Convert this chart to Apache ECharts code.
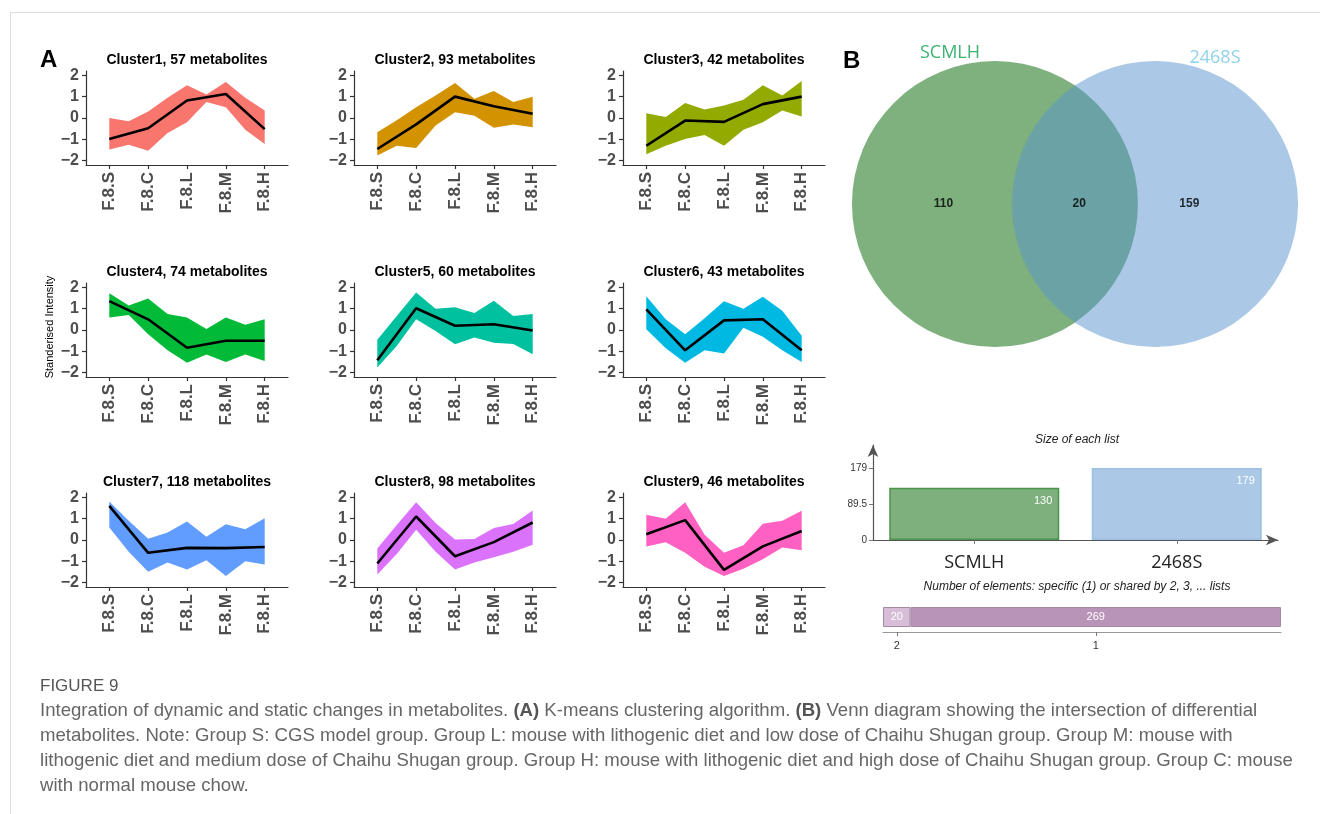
<!DOCTYPE html>
<html>
<head>
<meta charset="utf-8">
<script src="https://cdn.jsdelivr.net/npm/echarts@6/dist/echarts.min.js"></script>
<style>
  html, body { margin: 0; padding: 0; background: #fff; }
  #frame { position: absolute; left: 10px; top: 12px; right: 0; bottom: 0; border-left: 1px solid #dcdcdc; border-top: 1px solid #dcdcdc; }
  #chart { position: absolute; left: 0; top: 0; width: 1320px; height: 814px; }
</style>
</head>
<body>
<div id="frame"></div>
<div id="chart"></div>
<script>
// ── data ─────────────────────────────────────────────────────────────────────
const GROUPS = ['F.8.S', 'F.8.C', 'F.8.L', 'F.8.M', 'F.8.H'];
const Y_TICKS = [-2, -1, 0, 1, 2];
const CLUSTER_SIZES = [57, 93, 42, 74, 60, 43, 118, 98, 46];

// cluster centre profile (black line)
const CLUSTER_MEANS = [
    [-0.98, -0.48, 0.82, 1.12, -0.52],
    [-1.45, -0.30, 1.00, 0.55, 0.20],
    [-1.30, -0.12, -0.18, 0.65, 1.00],
    [1.35, 0.50, -0.83, -0.50, -0.50],
    [-1.42, 1.02, 0.20, 0.27, -0.02],
    [0.97, -0.95, 0.45, 0.50, -0.95],
    [1.60, -0.60, -0.37, -0.38, -0.33],
    [-1.10, 1.10, -0.76, -0.10, 0.82],
    [0.27, 0.93, -1.40, -0.30, 0.42],
];

// envelope of the member lines, read at every half group step
const BAND_X = [0, 0.5, 1, 1.5, 2, 2.5, 3, 3.5, 4];
const BAND_UPPER = [
    [0.0, -0.15, 0.3, 0.95, 1.53, 1.1, 1.69, 0.95, 0.35],
    [-0.67, -0.1, 0.5, 1.05, 1.64, 0.9, 1.26, 0.75, 1.0],
    [0.22, 0.05, 0.7, 0.4, 0.58, 0.85, 1.53, 1.05, 1.73],
    [1.72, 1.15, 1.48, 0.75, 0.59, 0.05, 0.59, 0.25, 0.5],
    [-0.46, 0.65, 1.76, 1.0, 1.06, 0.8, 1.37, 0.65, 0.75],
    [1.58, 0.5, -0.2, 0.55, 1.34, 1.0, 1.56, 0.9, -0.27],
    [1.8, 0.9, 0.06, 0.35, 0.87, 0.15, 0.74, 0.5, 1.02],
    [-0.4, 0.7, 1.77, 0.8, 0.02, 0.05, 0.56, 0.75, 1.38],
    [1.18, 1.0, 1.77, 0.25, -0.6, -0.25, 0.76, 0.9, 1.37],
];
const BAND_LOWER = [
    [-1.48, -1.25, -1.53, -0.7, -0.2, 0.75, 0.5, -0.55, -1.22],
    [-1.76, -1.3, -1.4, -0.35, 0.27, 0.1, -0.46, -0.3, -0.43],
    [-1.7, -1.3, -0.98, -0.8, -1.3, -0.55, -0.2, 0.35, 0.07],
    [0.59, 0.7, -0.2, -0.95, -1.53, -1.15, -1.5, -1.15, -1.45],
    [-1.76, -0.75, 0.5, -0.05, -0.67, -0.35, -0.6, -0.65, -1.14],
    [0.04, -0.85, -1.53, -0.95, -1.1, 0.1, -0.32, -0.95, -1.5],
    [0.59, -0.55, -1.49, -1.05, -1.38, -0.95, -1.69, -1.0, -1.15],
    [-1.61, -0.65, 0.48, -0.55, -1.38, -1.05, -0.81, -0.55, -0.22],
    [-0.3, -0.1, -0.6, -1.25, -1.69, -1.35, -0.9, -0.35, -0.48],
];

const VENN_SETS = ['SCMLH', '2468S'];
const VENN_COUNTS = [110, 20, 159];          // only SCMLH, both, only 2468S
const LIST_SIZES = [130, 179];
const LIST_TICKS = [0, 89.5, 179];
const SHARED_LABELS = ['2', '1'];
const SHARED_COUNTS = [20, 269];

// ── style / layout ───────────────────────────────────────────────────────────
const FONT = '"Liberation Sans", Arial, sans-serif';
const UI_FONT = '"Open Sans", "Noto Sans", sans-serif';
const CLUSTER_COLORS = ['#F8766D', '#D39200', '#93AA00', '#00BA38', '#00C19F', '#00B9E3', '#619CFF', '#DB72FB', '#FF61C3'];
const COL_X = [86, 354, 623];
const ROW_Y = [71, 283, 493];
const PANEL_W = 202;
const PANEL_H = 94;
const AXIS_GREY = '#333';
const TICK_GREY = '#4d4d4d';

const VENN_CENTRES = [0, 1.12];
const VENN_LABEL_X = [-0.36, 0.59, 1.36];
const VENN_FILLS = ['rgba(0,100,0,0.5)', 'rgba(87,147,205,0.5)'];
const VENN_TEXT = ['#3cb371', '#8fd3ea'];
const LIST_FILLS = ['#7db07d', '#abc9e6'];
const LIST_BORDERS = ['#4c944c', '#9cc0e4'];
const SHARED_FILLS = ['#d7bdd7', '#b994b9'];

function label(text, x, y, style, align = 'center') {
    return {
        text, left: x, top: y, padding: 0, textAlign: align, textVerticalAlign: 'middle',
        textStyle: { fontFamily: FONT, color: '#000', fontWeight: 'normal', ...style },
    };
}

const grids = [], xAxes = [], yAxes = [], series = [];
const titles = [
    label('A', 40, 60, { fontSize: 24, fontWeight: 'bold' }, 'left'),
    label('B', 843, 61, { fontSize: 24, fontWeight: 'bold' }, 'left'),
];

// ── A: k-means clusters ──────────────────────────────────────────────────────
CLUSTER_SIZES.forEach((n, i) => {
    const col = i % 3, row = Math.floor(i / 3);
    grids.push({ left: COL_X[col], top: ROW_Y[row], width: PANEL_W, height: PANEL_H });
    const tickStyle = { color: AXIS_GREY, width: 1.2 };
    xAxes.push({
        type: 'value', gridIndex: i, min: -0.6, max: 4.6, splitLine: { show: false },
        axisLine: { show: true, onZero: false, lineStyle: tickStyle },
        axisTick: { show: true, customValues: [0, 1, 2, 3, 4], length: 4, lineStyle: tickStyle },
        axisLabel: {
            customValues: [0, 1, 2, 3, 4], formatter: v => GROUPS[Math.round(v)], rotate: 90, margin: 7,
            fontSize: 17, fontWeight: 'bold', color: TICK_GREY, fontFamily: FONT,
        },
    });
    yAxes.push({
        type: 'value', gridIndex: i, min: -2.2, max: 2.2, splitLine: { show: false },
        axisLine: { show: true, onZero: false, lineStyle: tickStyle },
        axisTick: { show: true, customValues: Y_TICKS, length: 4, lineStyle: tickStyle },
        axisLabel: {
            customValues: Y_TICKS, formatter: v => String(v).replace('-', '\u2212'), margin: 7,
            fontSize: 16, fontWeight: 'bold', color: TICK_GREY, fontFamily: FONT,
        },
    });
    series.push({
        type: 'custom', xAxisIndex: i, yAxisIndex: i, silent: true, data: [[0, 0]],
        renderItem: (params, api) => {
            const top = BAND_X.map((x, k) => api.coord([x, BAND_UPPER[i][k]]));
            const bottom = BAND_X.map((x, k) => api.coord([x, BAND_LOWER[i][k]])).reverse();
            return { type: 'polygon', shape: { points: top.concat(bottom) }, style: { fill: CLUSTER_COLORS[i] } };
        },
    });
    series.push({
        type: 'line', xAxisIndex: i, yAxisIndex: i, silent: true, z: 5, symbol: 'none',
        data: CLUSTER_MEANS[i].map((v, k) => [k, v]),
        lineStyle: { color: '#000', width: 2.6 },
    });
    titles.push(label(`Cluster${i + 1}, ${n} metabolites`, COL_X[col] + PANEL_W / 2, ROW_Y[row] - 11,
        { fontSize: 14, fontWeight: 'bold' }));
});

// ── B: venn ──────────────────────────────────────────────────────────────────
const vi = grids.length;
grids.push({ left: 852, top: 61, width: 446, height: 286 });
xAxes.push({ type: 'value', gridIndex: vi, min: -1, max: 2.12, show: false });
yAxes.push({ type: 'value', gridIndex: vi, min: -1, max: 1, show: false });
series.push({
    type: 'custom', xAxisIndex: vi, yAxisIndex: vi, silent: true,
    data: VENN_SETS.map((s, k) => [VENN_CENTRES[k], 0]),
    renderItem: (params, api) => {
        const c = api.coord([api.value(0), api.value(1)]);
        const r = api.size([1, 1])[1];
        return { type: 'circle', shape: { cx: c[0], cy: c[1], r }, style: { fill: VENN_FILLS[params.dataIndex] } };
    },
});
series.push({
    type: 'scatter', xAxisIndex: vi, yAxisIndex: vi, silent: true, symbolSize: 1, z: 5,
    itemStyle: { color: 'transparent' },
    data: VENN_COUNTS.map((c, k) => [VENN_LABEL_X[k], 0]),
    label: {
        show: true, position: 'inside', formatter: p => String(VENN_COUNTS[p.dataIndex]),
        fontSize: 12, fontWeight: 'bold', color: '#000', fontFamily: FONT,
    },
});
titles.push(label(VENN_SETS[0], 950, 53, { fontSize: 18, color: VENN_TEXT[0], fontFamily: UI_FONT }));
titles.push(label(VENN_SETS[1], 1215, 58, { fontSize: 18, color: VENN_TEXT[1], fontFamily: UI_FONT }));

// ── B: size of each list ─────────────────────────────────────────────────────
const bi = grids.length;
grids.push({ left: 873, top: 445, width: 405, height: 95 });
xAxes.push({
    type: 'category', gridIndex: bi, data: VENN_SETS,
    axisLine: { show: true, symbol: ['none', 'arrow'], symbolSize: [8, 12], lineStyle: { color: '#555', width: 1.2 } },
    axisTick: { show: true, alignWithLabel: true, length: 4, lineStyle: { color: '#777' } },
    axisLabel: { fontSize: 18, color: '#222', margin: 14, fontFamily: UI_FONT },
});
yAxes.push({
    type: 'value', gridIndex: bi, min: 0, max: 236, splitLine: { show: false },
    axisLine: { show: true, symbol: ['none', 'arrow'], symbolSize: [8, 12], lineStyle: { color: '#555', width: 1.2 } },
    axisTick: { show: true, customValues: LIST_TICKS, length: 4, lineStyle: { color: '#777' } },
    axisLabel: { customValues: LIST_TICKS, fontSize: 10, color: '#333', margin: 6, fontFamily: FONT },
});
series.push({
    type: 'bar', xAxisIndex: bi, yAxisIndex: bi, silent: true, barWidth: 170,
    data: LIST_SIZES.map((v, k) => ({ value: v, itemStyle: { color: LIST_FILLS[k], borderColor: LIST_BORDERS[k], borderWidth: 1.5 } })),
    label: { show: true, position: 'insideTopRight', color: '#fff', fontSize: 11, fontFamily: FONT, offset: [-2, 3] },
});
titles.push(label('Size of each list', 1077, 440, { fontSize: 12, fontStyle: 'italic', color: '#222' }));
titles.push(label('Number of elements: specific (1) or shared by 2, 3, ... lists', 1077, 587,
    { fontSize: 12, fontStyle: 'italic', color: '#222' }));

// ── B: shared elements strip ─────────────────────────────────────────────────
const si = grids.length;
const sharedTotal = SHARED_COUNTS.reduce((a, b) => a + b, 0);
const sharedCentres = SHARED_COUNTS.map((v, k) => SHARED_COUNTS.slice(0, k).reduce((a, b) => a + b, 0) + v / 2);
grids.push({ left: 883, top: 607, width: 398, height: 20 });
yAxes.push({ type: 'category', gridIndex: si, data: ['n'], show: false });
xAxes.push({
    type: 'value', gridIndex: si, min: 0, max: sharedTotal, splitLine: { show: false }, offset: 5,
    axisLine: { show: true, lineStyle: { color: '#999', width: 1.2 } },
    axisTick: { show: true, customValues: sharedCentres, length: 4, lineStyle: { color: '#777' } },
    axisLabel: {
        customValues: sharedCentres, fontSize: 11, color: '#333', margin: 8, fontFamily: FONT,
        formatter: v => SHARED_LABELS[sharedCentres.findIndex(c => Math.abs(c - v) < 1e-6)],
    },
});
SHARED_COUNTS.forEach((v, k) => {
    series.push({
        type: 'bar', xAxisIndex: si, yAxisIndex: si, silent: true, stack: 'shared', barWidth: 20,
        data: [v],
        itemStyle: { color: SHARED_FILLS[k], borderColor: '#a58aa5', borderWidth: 1 },
        label: { show: true, position: 'inside', color: '#fff', fontSize: 11, fontFamily: FONT },
    });
});

// ── caption ──────────────────────────────────────────────────────────────────
titles.push(label('FIGURE 9', 40, 686, { fontSize: 17, color: '#555' }, 'left'));
titles.push({
    left: 40, top: 698, padding: 0,
    text: 'Integration of dynamic and static changes in metabolites. {b|(A)} K-means clustering algorithm. {b|(B)} Venn diagram showing the intersection of differential\n' +
        'metabolites. Note: Group S: CGS model group. Group L: mouse with lithogenic diet and low dose of Chaihu Shugan group. Group M: mouse with\n' +
        'lithogenic diet and medium dose of Chaihu Shugan group. Group H: mouse with lithogenic diet and high dose of Chaihu Shugan group. Group C: mouse\n' +
        'with normal mouse chow.',
    textStyle: {
        fontFamily: FONT, fontSize: 18.6, color: '#666', fontWeight: 'normal', lineHeight: 25,
        rich: { b: { fontFamily: FONT, fontSize: 18.6, color: '#555', fontWeight: 'bold', lineHeight: 25 } },
    },
});

const chart = echarts.init(document.getElementById('chart'), null, { renderer: 'canvas' });
chart.setOption({
    animation: false,
    title: titles,
    grid: grids,
    xAxis: xAxes,
    yAxis: yAxes,
    series,
    graphic: [{
        type: 'text', x: 50, y: 327, rotation: Math.PI / 2,
        style: { text: 'Standerised Intensity', fontSize: 11, fill: '#000', fontFamily: FONT, align: 'center', verticalAlign: 'middle' },
    }],
});
</script>
</body>
</html>
